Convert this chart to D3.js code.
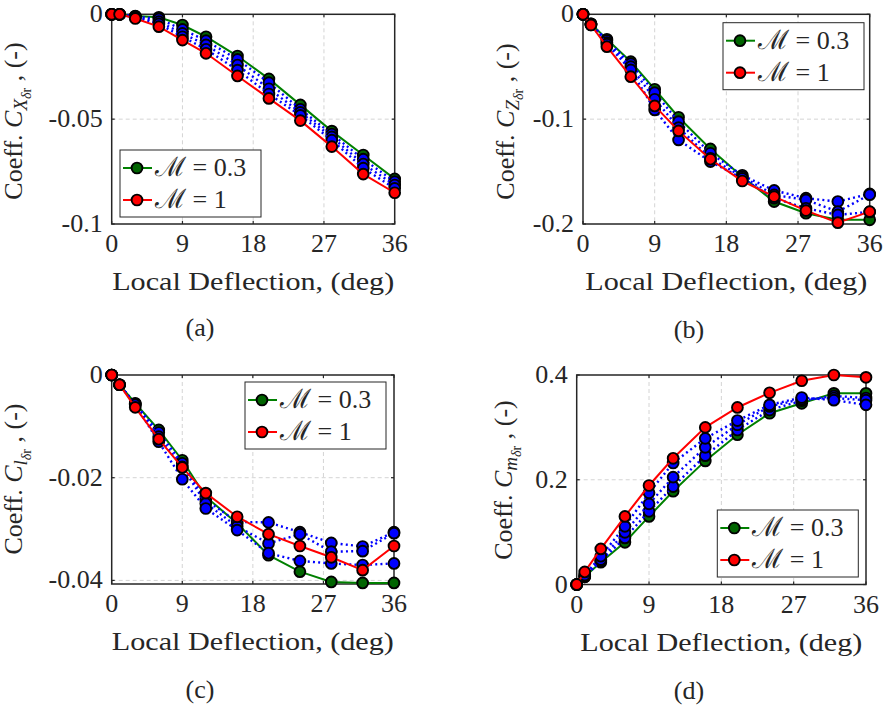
<!DOCTYPE html>
<html><head><meta charset="utf-8">
<script src="https://cdn.jsdelivr.net/npm/d3@7/dist/d3.min.js"></script>
</head><body style="margin:0;background:#fff">
<script>
// ---------- data ----------
const xDeg = [0, 1, 3, 6, 9, 12, 16, 20, 24, 28, 32, 36];
const xTicks = [0, 9, 18, 27, 36];

// (a) C_X
const aGreen = [0, 0, -0.0008, -0.0014, -0.0051, -0.0107, -0.0199, -0.0308, -0.0432, -0.0557, -0.0671, -0.0785];
const aBlue1 = [0, 0, -0.0010, -0.0022, -0.0072, -0.0126, -0.0215, -0.0326, -0.0453, -0.0571, -0.0691, -0.0798];
const aBlue2 = [0, 0, -0.0012, -0.0035, -0.0091, -0.0146, -0.0242, -0.0355, -0.0468, -0.0585, -0.0714, -0.0814];
const aBlue3 = [0, 0, -0.0015, -0.0046, -0.0107, -0.0167, -0.0266, -0.0380, -0.0482, -0.0600, -0.0734, -0.0830];
const aRed   = [0, 0, -0.0020, -0.0059, -0.0123, -0.0186, -0.0294, -0.0401, -0.0507, -0.0631, -0.0762, -0.0851];
const aTicks = [0, -0.05, -0.1];
const aTickLabels = ["0", "-0.05", "-0.1"];

// (b) C_Z
const bGreen = [0, -0.0090, -0.0238, -0.0452, -0.0715, -0.0982, -0.1284, -0.1550, -0.1786, -0.1897, -0.1960, -0.1960];
const bBlue1 = [0, -0.0090, -0.0250, -0.0470, -0.0747, -0.1024, -0.1325, -0.1535, -0.1680, -0.1754, -0.1786, -0.1713];
const bBlue2 = [0, -0.0095, -0.0270, -0.0500, -0.0810, -0.1081, -0.1373, -0.1550, -0.1723, -0.1770, -0.1882, -0.1720];
const bBlue3 = [0, -0.0100, -0.0285, -0.0530, -0.0912, -0.1198, -0.1405, -0.1565, -0.1754, -0.1850, -0.1913, -0.1885];
const bRed   = [0, -0.0102, -0.0309, -0.0595, -0.0874, -0.1112, -0.1382, -0.1590, -0.1739, -0.1872, -0.1987, -0.1882];
const bTicks = [0, -0.1, -0.2];
const bTickLabels = ["0", "-0.1", "-0.2"];

// (c) C_l
const cGreen = [0, -0.0019, -0.0055, -0.0107, -0.0166, -0.0237, -0.0289, -0.0351, -0.0383, -0.0403, -0.0405, -0.0405];
const cBlue1 = [0, -0.0019, -0.0056, -0.0112, -0.0172, -0.0243, -0.0286, -0.0287, -0.0306, -0.0327, -0.0334, -0.0306];
const cBlue2 = [0, -0.0019, -0.0057, -0.0120, -0.0179, -0.0250, -0.0295, -0.0328, -0.0310, -0.0344, -0.0343, -0.0308];
const cBlue3 = [0, -0.0019, -0.0058, -0.0130, -0.0203, -0.0260, -0.0302, -0.0347, -0.0362, -0.0367, -0.0370, -0.0367];
const cRed   = [0, -0.0019, -0.0063, -0.0125, -0.0180, -0.0230, -0.0276, -0.0310, -0.0333, -0.0355, -0.0380, -0.0333];
const cTicks = [0, -0.02, -0.04];
const cTickLabels = ["0", "-0.02", "-0.04"];

// (d) C_m
const dGreen = [0, 0.0147, 0.0425, 0.0806, 0.130, 0.178, 0.236, 0.286, 0.327, 0.346, 0.365, 0.365];
const dBlue1 = [0, 0.0147, 0.0450, 0.0890, 0.1397, 0.187, 0.246, 0.295, 0.333, 0.351, 0.360, 0.356];
const dBlue2 = [0, 0.0160, 0.0476, 0.0997, 0.154, 0.205, 0.262, 0.305, 0.340, 0.354, 0.356, 0.352];
const dBlue3 = [0, 0.0180, 0.0540, 0.111, 0.175, 0.232, 0.279, 0.313, 0.343, 0.357, 0.352, 0.343];
const dRed   = [0, 0.0240, 0.0680, 0.130, 0.189, 0.241, 0.300, 0.338, 0.366, 0.389, 0.400, 0.3955];
const dTicks = [0, 0.2, 0.4];
const dTickLabels = ["0", "0.2", "0.4"];

const legendNames = ["0.3", "1"];
const xLabelText = "Local Deflection, (deg)";
const captions = ["(a)", "(b)", "(c)", "(d)"];
const coeffSymbols = ["X", "Z", "l", "m"];

// ---------- drawing ----------
const FS = 26;
const AX = "#262626";
const svg = d3.select("body").append("svg").attr("width", 883).attr("height", 709);

function txt(sel, fam) {
  return sel.append("text").attr("font-family", fam || "serif")
    .attr("font-size", FS).attr("fill", AX);
}

function panel(cfg) {
  const x = d3.scaleLinear().domain([0, 36]).range([cfg.l, cfg.r]);
  const y = d3.scaleLinear().domain(cfg.ydom).range([cfg.b, cfg.t]);
  const g = svg.append("g");

  // grid
  xTicks.slice(1, -1).forEach(v => g.append("line")
    .attr("x1", x(v)).attr("x2", x(v)).attr("y1", cfg.t).attr("y2", cfg.b)
    .attr("stroke", "#d4d4d4").attr("stroke-width", 1).attr("stroke-dasharray", "4,3"));
  cfg.yticks.forEach(v => {
    const yy = y(v);
    if (Math.abs(yy - cfg.t) < 1 || Math.abs(yy - cfg.b) < 1) return;
    g.append("line").attr("x1", cfg.l).attr("x2", cfg.r).attr("y1", yy).attr("y2", yy)
      .attr("stroke", "#d4d4d4").attr("stroke-width", 1).attr("stroke-dasharray", "4,3");
  });

  // box
  g.append("rect").attr("x", cfg.l).attr("y", cfg.t).attr("width", cfg.r - cfg.l).attr("height", cfg.b - cfg.t)
    .attr("fill", "none").attr("stroke", AX).attr("stroke-width", 1.5);
  const TL = 3;
  xTicks.forEach(v => {
    g.append("line").attr("x1", x(v)).attr("x2", x(v)).attr("y1", cfg.b).attr("y2", cfg.b - TL).attr("stroke", AX).attr("stroke-width", 1.2);
    g.append("line").attr("x1", x(v)).attr("x2", x(v)).attr("y1", cfg.t).attr("y2", cfg.t + TL).attr("stroke", AX).attr("stroke-width", 1.2);
    txt(g).attr("x", x(v)).attr("y", cfg.b + 28).attr("text-anchor", "middle").text(v);
  });
  cfg.yticks.forEach((v, i) => {
    g.append("line").attr("x1", cfg.l).attr("x2", cfg.l + TL).attr("y1", y(v)).attr("y2", y(v)).attr("stroke", AX).attr("stroke-width", 1.2);
    g.append("line").attr("x1", cfg.r).attr("x2", cfg.r - TL).attr("y1", y(v)).attr("y2", y(v)).attr("stroke", AX).attr("stroke-width", 1.2);
    txt(g).attr("x", cfg.l - 9).attr("y", y(v) + 8).attr("text-anchor", "end").text(cfg.ytickLabels[i]);
  });

  // series
  const line = d3.line().x((d, i) => x(xDeg[i])).y(d => y(d));
  const series = [
    {v: cfg.green, stroke: "#008000", fill: "#006400", dash: null},
    {v: cfg.blue1, stroke: "#0000ff", fill: "#0000ff", dash: "2,3.2"},
    {v: cfg.blue2, stroke: "#0000ff", fill: "#0000ff", dash: "2,3.2"},
    {v: cfg.blue3, stroke: "#0000ff", fill: "#0000ff", dash: "2,3.2"},
    {v: cfg.red, stroke: "#ff0000", fill: "#ff0000", dash: null}
  ];
  series.forEach(s => {
    g.append("path").attr("d", line(s.v)).attr("fill", "none").attr("stroke", s.stroke)
      .attr("stroke-width", s.dash ? 2.4 : 2).attr("stroke-dasharray", s.dash);
    g.selectAll(null).data(s.v).enter().append("circle")
      .attr("cx", (d, i) => x(xDeg[i])).attr("cy", d => y(d)).attr("r", 5.4)
      .attr("fill", s.fill).attr("stroke", "#000").attr("stroke-width", 1.9);
  });

  // x label
  txt(g, "Times New Roman").attr("x", (cfg.l + cfg.r) / 2).attr("y", cfg.b + 66).attr("text-anchor", "middle")
    .attr("textLength", 282).attr("lengthAdjust", "spacingAndGlyphs").text(xLabelText);

  // y label
  const yl = txt(g).attr("transform", `translate(${cfg.ylx},${cfg.yly}) rotate(-90)`)
    .attr("text-anchor", "middle");
  yl.append("tspan").text("Coeff.  ");
  yl.append("tspan").attr("font-style", "italic").text("C");
  yl.append("tspan").attr("font-style", "italic").attr("font-size", 19).attr("dy", 5).text(cfg.sym);
  yl.append("tspan").attr("font-style", "italic").attr("font-size", 14).attr("dy", 4).text("δ");
  yl.append("tspan").attr("font-size", 14).text("r");
  yl.append("tspan").attr("font-size", FS).attr("dy", -9).text(" , (-)");

  // legend
  if (cfg.leg) {
    const lx = cfg.leg[0], ly = cfg.leg[1], lw = 141, lh = 67;
    const lg = g.append("g");
    lg.append("rect").attr("x", lx).attr("y", ly).attr("width", lw).attr("height", lh)
      .attr("fill", "#fff").attr("stroke", AX).attr("stroke-width", 1);
    [series[0], series[4]].forEach((s, k) => {
      const yy = ly + 18 + k * 32;
      lg.append("line").attr("x1", lx + 3).attr("x2", lx + 32).attr("y1", yy).attr("y2", yy)
        .attr("stroke", s.stroke).attr("stroke-width", 2);
      lg.append("circle").attr("cx", lx + 17).attr("cy", yy).attr("r", 5.4)
        .attr("fill", s.fill).attr("stroke", "#000").attr("stroke-width", 1.9);
      const t = txt(lg).attr("x", lx + 35).attr("y", yy + 8);
      t.append("tspan").attr("font-size", 27).text("ℳ");
      t.append("tspan").text(" = " + legendNames[k]);
    });
  }

  // caption
  txt(g).attr("x", cfg.capx).attr("y", cfg.capy + 8).attr("text-anchor", "middle").text(cfg.cap);
}

panel({l: 111.7, r: 394.7, t: 14.3, b: 224, ydom: [-0.1, 0], yticks: aTicks, ytickLabels: aTickLabels,
  green: aGreen, blue1: aBlue1, blue2: aBlue2, blue3: aBlue3, red: aRed, sym: coeffSymbols[0],
  ylx: 22, yly: 121, leg: [120, 150], cap: captions[0], capx: 200, capy: 328});
panel({l: 583, r: 869.7, t: 14.3, b: 224, ydom: [-0.2, 0], yticks: bTicks, ytickLabels: bTickLabels,
  green: bGreen, blue1: bBlue1, blue2: bBlue2, blue3: bBlue3, red: bRed, sym: coeffSymbols[1],
  ylx: 514, yly: 121.5, leg: [723, 22.7], cap: captions[1], capx: 689, capy: 330});
panel({l: 111.7, r: 394, t: 375, b: 584, ydom: [-0.0407, 0], yticks: cTicks, ytickLabels: cTickLabels,
  green: cGreen, blue1: cBlue1, blue2: cBlue2, blue3: cBlue3, red: cRed, sym: coeffSymbols[2],
  ylx: 22, yly: 479, leg: [245, 382], cap: captions[2], capx: 200, capy: 690});
panel({l: 576.7, r: 866, t: 375, b: 584.5, ydom: [0, 0.4], yticks: dTicks, ytickLabels: dTickLabels,
  green: dGreen, blue1: dBlue1, blue2: dBlue2, blue3: dBlue3, red: dRed, sym: coeffSymbols[3],
  ylx: 512, yly: 480, leg: [717.3, 510], cap: captions[3], capx: 689, capy: 691});
</script>
</body></html>
